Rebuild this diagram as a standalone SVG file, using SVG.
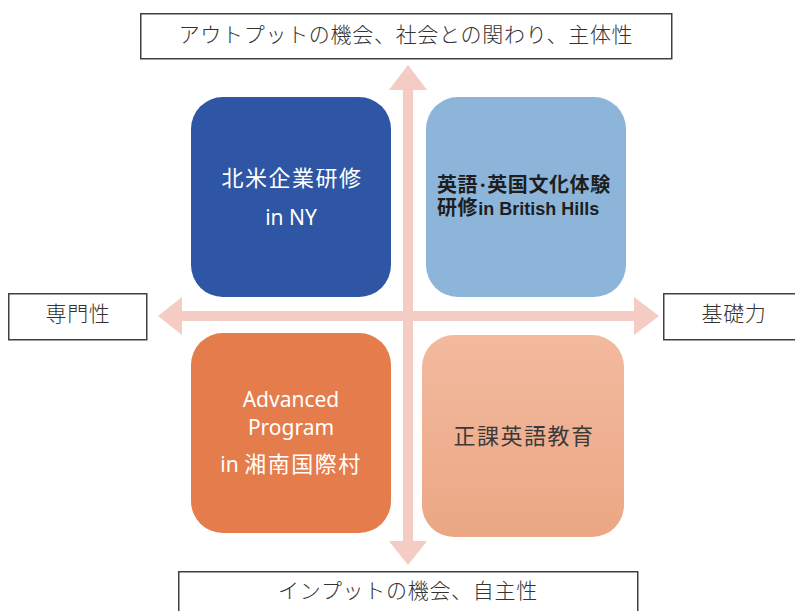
<svg xmlns="http://www.w3.org/2000/svg" width="795" height="611" viewBox="0 0 795 611">
  <defs>
    <linearGradient id="peach" x1="0" y1="0" x2="0" y2="1">
      <stop offset="0" stop-color="#F3BA9F"/>
      <stop offset="1" stop-color="#EBA784"/>
    </linearGradient>
  </defs>
  <style>
    .label { fill: #fff; stroke: #404040; stroke-width: 1.5; }
    .ltext { font-family: "Noto Sans CJK JP", sans-serif; font-weight: 300; font-size: 21px; fill: #333; letter-spacing: 0.7px; text-anchor: middle; }
    .wtext { font-family: "Noto Sans", "Noto Sans CJK JP", sans-serif; fill: #fff; text-anchor: middle; }
    .arrow { fill: #F4CCC3; }
  </style>
  <rect width="795" height="611" fill="#fff"/>

  <g id="connectors">
    <polygon class="arrow" points="408,65 427,90 413,90 413,541 427,541 408,565 389,541 403,541 403,90 389,90"/>
    <polygon class="arrow" points="158,316 182,297 182,311 634,311 634,297 659,316 634,335 634,321 182,321 182,335"/>
  </g>

  <g id="node-top">
    <rect class="label" x="140.75" y="13.75" width="531" height="45"/>
    <text class="ltext" x="406" y="42">アウトプットの機会、社会との関わり、主体性</text>
  </g>
  <g id="node-left">
    <rect class="label" x="8.75" y="293.75" width="138" height="46"/>
    <text class="ltext" x="78" y="321">専門性</text>
  </g>
  <g id="node-right">
    <rect class="label" x="663.75" y="293.75" width="140" height="46"/>
    <text class="ltext" x="734" y="321">基礎力</text>
  </g>
  <g id="node-bottom">
    <rect class="label" x="178.75" y="571.75" width="459" height="50"/>
    <text class="ltext" x="408" y="598">インプットの機会、自主性</text>
  </g>

  <g id="node-ny">
    <rect x="191" y="97" width="200" height="200" rx="32" fill="#2E56A4"/>
    <text class="wtext" x="292" y="186" font-size="22" letter-spacing="1.5">北米企業研修</text>
    <text class="wtext" x="291" y="225" font-size="21">in NY</text>
  </g>
  <g id="node-bh">
    <rect x="426" y="97" width="200" height="200" rx="32" fill="#8DB5DA"/>
    <text x="437" y="192" font-family="'Liberation Sans', 'Noto Sans CJK JP', sans-serif" font-weight="bold" fill="#1E1E1E"><tspan font-size="20" letter-spacing="0.6">英語</tspan><tspan font-size="18">･</tspan><tspan font-size="20" letter-spacing="0.6">英国文化体験</tspan></text>
    <text x="437" y="215" font-family="'Liberation Sans', 'Noto Sans CJK JP', sans-serif" font-weight="bold" fill="#1E1E1E"><tspan font-size="20" letter-spacing="0.6">研修</tspan><tspan font-size="18">in British Hills</tspan></text>
  </g>
  <g id="node-adv">
    <rect x="191" y="333" width="200" height="200" rx="32" fill="#E57C4B"/>
    <text class="wtext" x="291" y="407" font-size="21">Advanced</text>
    <text class="wtext" x="291" y="435" font-size="21">Program</text>
    <text class="wtext" x="291" y="472"><tspan font-size="21">in </tspan><tspan font-size="22" letter-spacing="1.5">湘南国際村</tspan></text>
  </g>
  <g id="node-seika">
    <rect x="422" y="335" width="202" height="202" rx="32" fill="url(#peach)"/>
    <text x="524" y="444" font-family="'Noto Sans CJK JP', sans-serif" font-size="22" letter-spacing="1.5" fill="#3A3A3A" text-anchor="middle">正課英語教育</text>
  </g>
</svg>
